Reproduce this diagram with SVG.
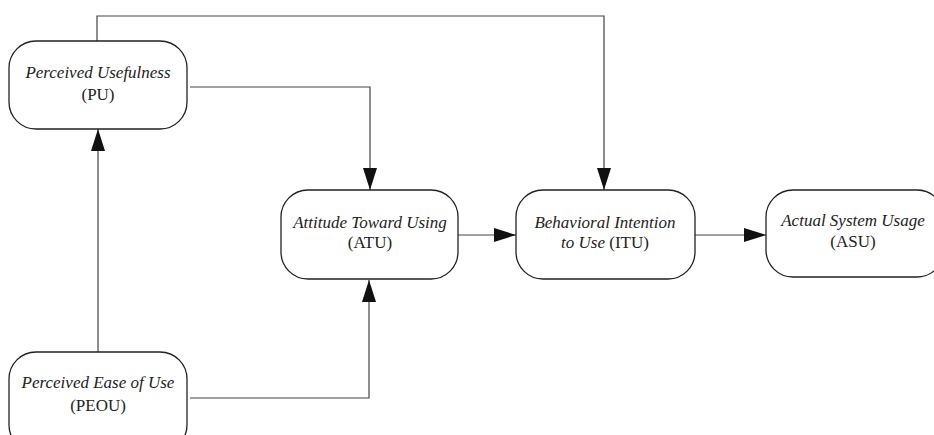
<svg xmlns="http://www.w3.org/2000/svg" width="934" height="435" viewBox="0 0 934 435">
<defs>
<marker id="ah" viewBox="0 0 22 14" refX="22" refY="7" markerWidth="22" markerHeight="14" markerUnits="userSpaceOnUse" orient="auto">
<path d="M0,0 L22,7 L0,14 Z" fill="#111"/>
</marker>
<style>
.box{fill:#fff;stroke:#222;stroke-width:1.3}
.t{font-size:17px;fill:#222;text-anchor:middle}
.i{font-style:italic}
.c{fill:none;stroke:#444;stroke-width:1.2}
</style>
</defs>
<rect width="934" height="435" fill="#fff"/>
<g id="connectors">
<path class="c" d="M97,41 V16 H604 V190" marker-end="url(#ah)"/>
<path class="c" d="M190,87 H370 V190" marker-end="url(#ah)"/>
<path class="c" d="M98,352 V129" marker-end="url(#ah)"/>
<path class="c" d="M190,398 H369 V280" marker-end="url(#ah)"/>
<path class="c" d="M458,235 H516" marker-end="url(#ah)"/>
<path class="c" d="M695,235 H766" marker-end="url(#ah)"/>
</g>
<g font-family="Liberation Serif, Times New Roman, serif">
<g id="PU">
<rect class="box" x="9" y="41" width="178" height="88" rx="27"/>
<text class="t i" x="98" y="78">Perceived Usefulness</text>
<text class="t" x="98" y="100">(PU)</text>
</g>
<g id="ATU">
<rect class="box" x="281" y="190" width="177" height="89" rx="27"/>
<text class="t i" x="370" y="228">Attitude Toward Using</text>
<text class="t" x="370" y="248">(ATU)</text>
</g>
<g id="ITU">
<rect class="box" x="516" y="190" width="179" height="89" rx="27"/>
<text class="t i" x="605" y="228">Behavioral Intention</text>
<text class="t" x="605" y="248"><tspan font-style="italic">to Use</tspan> (ITU)</text>
</g>
<g id="ASU">
<rect class="box" x="766" y="190" width="178" height="87" rx="27"/>
<text class="t i" x="853" y="226">Actual System Usage</text>
<text class="t" x="853" y="247">(ASU)</text>
</g>
<g id="PEOU">
<rect class="box" x="9" y="352" width="178" height="100" rx="27"/>
<text class="t i" x="98" y="388">Perceived Ease of Use</text>
<text class="t" x="98" y="411">(PEOU)</text>
</g>
</g>
</svg>
